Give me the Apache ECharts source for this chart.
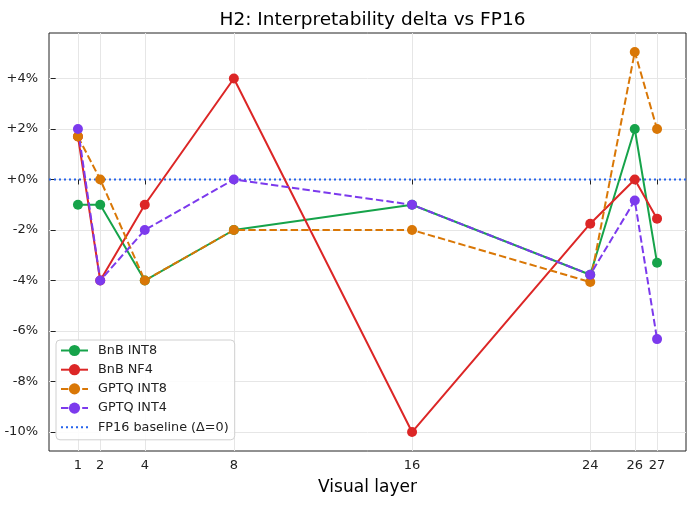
<!DOCTYPE html>
<html>
<head>
<meta charset="utf-8">
<script src="https://cdn.jsdelivr.net/npm/echarts@6/dist/echarts.min.js"></script>
<style>html,body{margin:0;padding:0;background:#fff;}#c{width:694px;height:505px;}</style>
</head>
<body>
<div id="c"></div>
<script>
const layers = [1, 2, 4, 8, 16, 24, 26, 27];
const bnbInt8 = [-1, -1, -4, -2, -1, -3.77, 2.0, -3.3];
const bnbNf4 = [1.7, -4, -1, 4, -10, -1.75, 0, -1.55];
const gptqInt8 = [1.7, 0, -4, -2, -2, -4.06, 5.05, 2.0];
const gptqInt4 = [2.0, -4, -2, 0, -1, -3.77, -0.83, -6.32];
const yTicks = [-10, -8, -6, -4, -2, 0, 2, 4];
const xRange = [-0.3, 28.3];
const yRange = [-10.75, 5.8];

const font = 'DejaVu Sans';
function pairs(vals) { return layers.map((x, i) => [x, vals[i]]); }
function mk(name, vals, color, dashed) {
  return {
    name: name, type: 'line', data: pairs(vals),
    symbol: 'circle', symbolSize: 10,
    itemStyle: { color: color },
    lineStyle: { color: color, width: 2, type: dashed ? [7.4, 3.2] : 'solid' },
    emphasis: { disabled: true }, animation: false
  };
}
const chart = echarts.init(document.getElementById('c'), null, { renderer: 'canvas' });
chart.setOption({
  backgroundColor: '#fff',
  animation: false,
  title: {
    text: 'H2: Interpretability delta vs FP16', left: 367.5, top: 6, textAlign: 'center',
    textStyle: { fontFamily: font, fontSize: 18.5, fontWeight: 'normal', color: '#000' }
  },
  grid: { left: 49, right: 8, top: 33, bottom: 54, show: true, borderColor: '#222', borderWidth: 1, backgroundColor: 'transparent' },
  legend: {
    left: 56, top: 340, orient: 'vertical',
    backgroundColor: 'rgba(255,255,255,0.85)', borderColor: '#d0d0d0', borderWidth: 1, borderRadius: 4,
    padding: [4, 6, 6, 4], itemGap: 6.2, itemWidth: 27, itemHeight: 14,
    textStyle: { fontFamily: font, fontSize: 12.8, color: '#222', padding: [0, 0, 0, 5] },
    data: ['BnB INT8', 'BnB NF4', 'GPTQ INT8', 'GPTQ INT4',
      { name: 'FP16 baseline (Δ=0)', itemStyle: { opacity: 0 } }]
  },
  xAxis: {
    type: 'value', min: xRange[0], max: xRange[1],
    name: 'Visual layer', nameLocation: 'middle', nameGap: 28,
    nameTextStyle: { fontFamily: font, fontSize: 17, color: '#000' },
    axisLine: { show: false },
    axisTick: { show: true, inside: false, length: 5, lineStyle: { color: '#222' }, customValues: layers },
    axisLabel: { fontFamily: font, fontSize: 13, color: '#222', margin: 8, customValues: layers },
    splitLine: { show: true, lineStyle: { color: '#e6e6e6', width: 1 } }
  },
  yAxis: {
    type: 'value', min: yRange[0], max: yRange[1],
    axisLine: { show: false },
    axisTick: { show: true, inside: false, length: 5, lineStyle: { color: '#222' }, customValues: yTicks },
    axisLabel: {
      fontFamily: font, fontSize: 13, color: '#222', margin: 11, customValues: yTicks,
      formatter: v => (v >= 0 ? '+' : '-') + Math.abs(Math.round(v)) + '%'
    },
    splitLine: { show: true, lineStyle: { color: '#e6e6e6', width: 1 } }
  },
  series: [
    mk('BnB INT8', bnbInt8, '#16a34a', false),
    mk('BnB NF4', bnbNf4, '#dc2626', false),
    mk('GPTQ INT8', gptqInt8, '#d97706', true),
    mk('GPTQ INT4', gptqInt4, '#7c3aed', true),
    {
      name: 'FP16 baseline (Δ=0)', type: 'line', data: [[xRange[0], 0], [xRange[1], 0]],
      symbol: 'none', itemStyle: { color: '#2563eb' },
      lineStyle: { color: '#2563eb', width: 2, type: [2, 3], cap: 'butt' }, z: 1, animation: false
    }
  ]
});
</script>
</body>
</html>
